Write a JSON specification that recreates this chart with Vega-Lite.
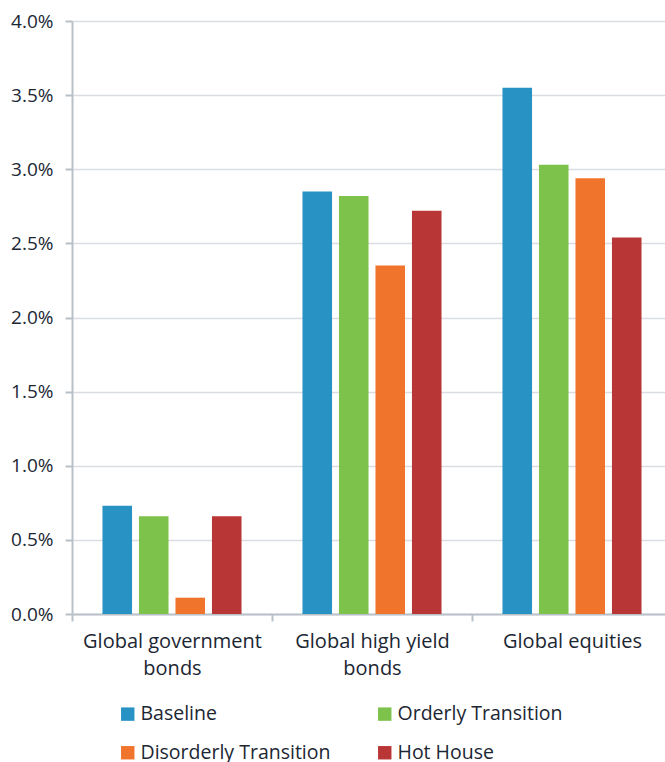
{
  "$schema": "https://vega.github.io/schema/vega-lite/v6.json",
  "width": 600,
  "height": 593,
  "autosize": "none",
  "padding": {"left": 72, "top": 21, "right": 0, "bottom": 148},
  "background": "white",
  "config": {
    "font": "Open Sans",
    "view": {"stroke": null},
    "axis": {"labelFont": "Open Sans", "labelColor": "#1c2733", "labelFontSize": 19}
  },
  "data": {
    "values": [
      {"asset": "Global government bonds", "scenario": "Baseline", "value": 0.0073},
      {"asset": "Global government bonds", "scenario": "Orderly Transition", "value": 0.0066},
      {"asset": "Global government bonds", "scenario": "Disorderly Transition", "value": 0.0011},
      {"asset": "Global government bonds", "scenario": "Hot House", "value": 0.0066},
      {"asset": "Global high yield bonds", "scenario": "Baseline", "value": 0.0285},
      {"asset": "Global high yield bonds", "scenario": "Orderly Transition", "value": 0.0282},
      {"asset": "Global high yield bonds", "scenario": "Disorderly Transition", "value": 0.0235},
      {"asset": "Global high yield bonds", "scenario": "Hot House", "value": 0.0272},
      {"asset": "Global equities", "scenario": "Baseline", "value": 0.0355},
      {"asset": "Global equities", "scenario": "Orderly Transition", "value": 0.0303},
      {"asset": "Global equities", "scenario": "Disorderly Transition", "value": 0.0294},
      {"asset": "Global equities", "scenario": "Hot House", "value": 0.0254}
    ]
  },
  "mark": {"type": "bar"},
  "encoding": {
    "x": {
      "field": "asset",
      "type": "nominal",
      "sort": ["Global government bonds", "Global high yield bonds", "Global equities"],
      "scale": {"paddingInner": 0, "paddingOuter": 0},
      "axis": {
        "title": null,
        "labelAngle": 0,
        "labelFontSize": 20,
        "tickBand": "extent",
        "domainColor": "#b9c1c8",
        "domainWidth": 2,
        "tickColor": "#b9c1c8",
        "tickWidth": 2,
        "tickSize": 7,
        "labelPadding": 10,
        "labelLineHeight": 27,
        "labelExpr": "datum.label == 'Global government bonds' ? ['Global government', 'bonds'] : datum.label == 'Global high yield bonds' ? ['Global high yield', 'bonds'] : datum.label"
      }
    },
    "xOffset": {
      "field": "scenario",
      "type": "nominal",
      "sort": ["Baseline", "Orderly Transition", "Disorderly Transition", "Hot House"],
      "scale": {"paddingInner": 0.19, "paddingOuter": 0.835}
    },
    "y": {
      "field": "value",
      "type": "quantitative",
      "scale": {"domain": [0, 0.04], "nice": false},
      "axis": {
        "title": null,
        "format": ".1%",
        "values": [0, 0.005, 0.01, 0.015, 0.02, 0.025, 0.03, 0.035, 0.04],
        "grid": true,
        "gridColor": "#d9dde1",
        "gridWidth": 1.5,
        "domainColor": "#b9c1c8",
        "domainWidth": 2,
        "tickColor": "#b9c1c8",
        "tickWidth": 2,
        "tickSize": 7,
        "labelPadding": 12
      }
    },
    "color": {
      "field": "scenario",
      "type": "nominal",
      "sort": ["Baseline", "Orderly Transition", "Disorderly Transition", "Hot House"],
      "scale": {
        "domain": ["Baseline", "Orderly Transition", "Disorderly Transition", "Hot House"],
        "range": ["#2792c3", "#7dc24a", "#f0742b", "#b83636"]
      },
      "legend": {
        "title": null,
        "orient": "none",
        "legendX": 46,
        "legendY": 683,
        "columns": 2,
        "direction": "horizontal",
        "symbolType": "square",
        "symbolSize": 180,
        "symbolStrokeWidth": 0,
        "labelFont": "Open Sans",
        "labelFontSize": 19.5,
        "labelColor": "#1c2733",
        "labelOffset": 3,
        "rowPadding": 18,
        "columnPadding": 44,
        "labelLimit": 300
      }
    }
  }
}
